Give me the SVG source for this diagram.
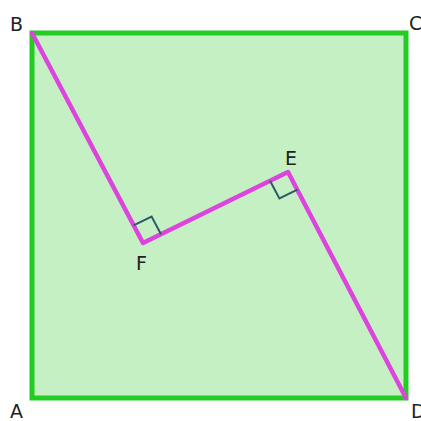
<svg xmlns="http://www.w3.org/2000/svg" width="421" height="421" viewBox="0 0 421 421">
<style>
.lbl{font-family:"DejaVu Sans",sans-serif;font-size:19px;fill:#222}
.seg{stroke:#dd44dd;stroke-width:4.5;fill:none;stroke-linecap:round;stroke-linejoin:round}
.ra{stroke:#2f5a6a;stroke-width:2;fill:none}
</style>
<rect width="421" height="421" fill="#ffffff"/>
<g id="square">
<rect x="32" y="33" width="374" height="365" fill="#c4f0c4" stroke="#22cc22" stroke-width="5"/>
</g>
<g id="connectors">
<polyline class="seg" points="32,33 143,243 288,172 406,398"/>
</g>
<g id="marks">
<path class="ra" d="M133.6,225.3 L151.6,216.5 L161,234.2"/>
<path class="ra" d="M270,180.8 L279.4,198.5 L297.4,189.7"/>
</g>
<g id="B"><text class="lbl" x="10" y="31">B</text></g>
<g id="C"><text class="lbl" x="409" y="30">C</text></g>
<g id="A"><text class="lbl" x="10" y="418">A</text></g>
<g id="D"><text class="lbl" x="411" y="418">D</text></g>
<g id="F"><text class="lbl" x="136" y="270">F</text></g>
<g id="E"><text class="lbl" x="285" y="165">E</text></g>
</svg>
